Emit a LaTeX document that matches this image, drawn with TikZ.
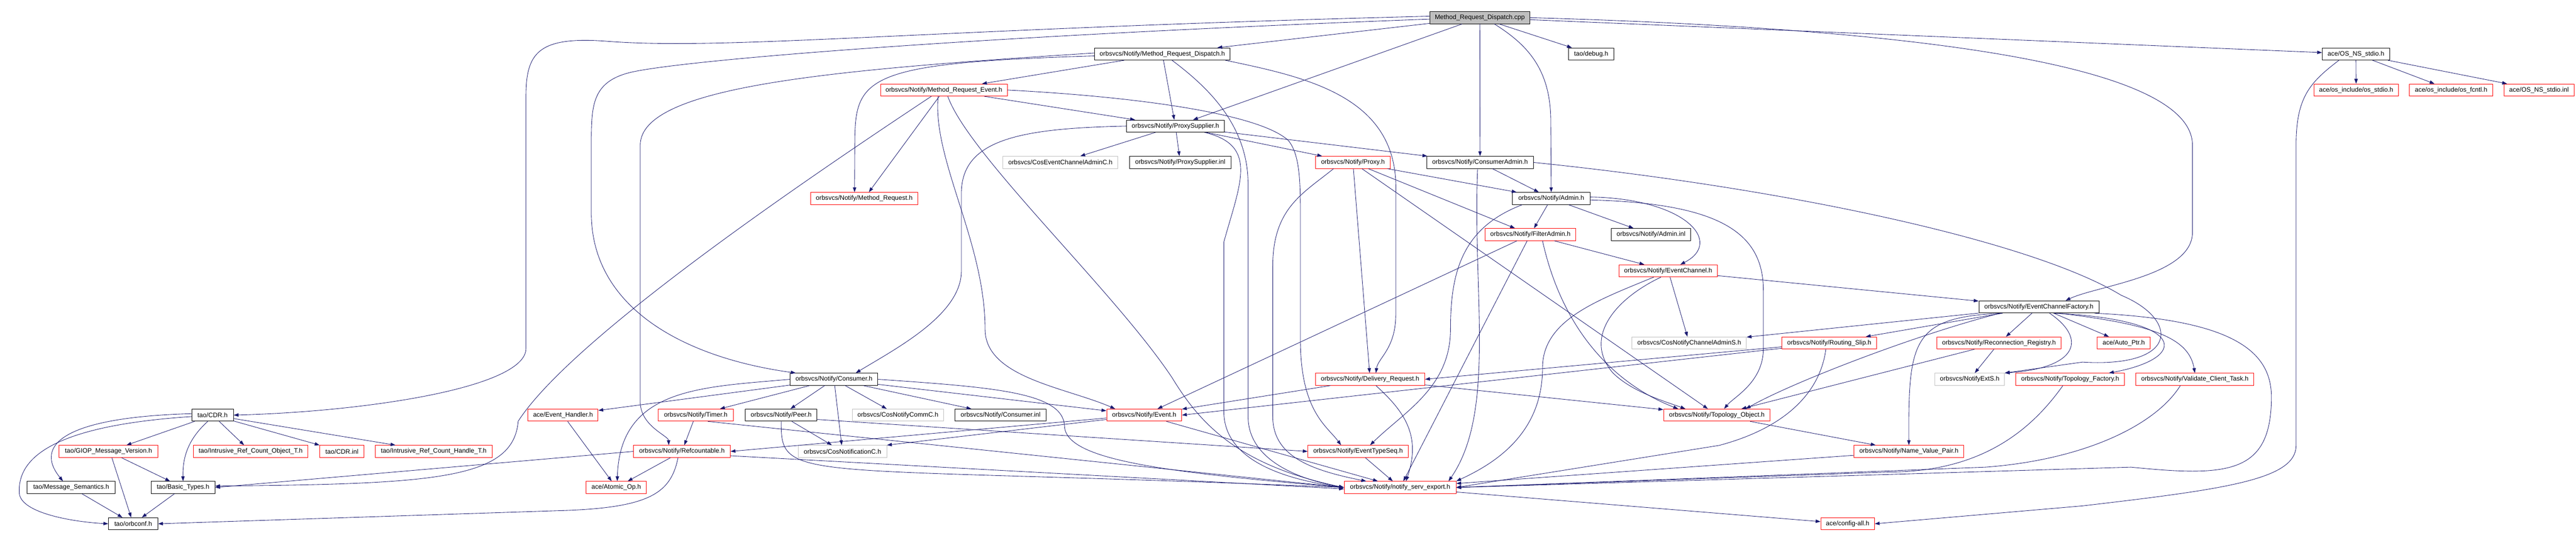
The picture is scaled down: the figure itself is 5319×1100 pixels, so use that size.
\documentclass[tikz,border=0pt]{standalone}
\usepackage{fontspec}
\setmainfont{Liberation Sans}
\usetikzlibrary{arrows.meta}
\definecolor{edgeblue}{HTML}{191970}
\definecolor{nodoc}{HTML}{BFBFBF}
\begin{document}
\begin{tikzpicture}[x=1pt, y=-1pt,
    hdr/.style={draw=black, fill=white, line width=1pt, minimum height=25pt, inner xsep=1pt, inner ysep=0pt, font=\fontsize{13.3}{16}\selectfont},
    hdrred/.style={hdr, draw=red},
    hdrgray/.style={hdr, draw=nodoc},
    src/.style={hdr, fill=nodoc},
    inc/.style={draw=edgeblue, line width=0.9pt, -{Triangle[length=10pt, width=7pt]}}]
    \fill[white] (0,0) rectangle (5319,1100);

    \node[src, minimum width=207pt] (root) at (3055.5,36.5) {Method\_Request\_Dispatch.cpp};
    \node[hdr, minimum width=280pt] (mrdh) at (2400,111.5) {orbsvcs/Notify/Method\_Request\_Dispatch.h};
    \node[hdr, minimum width=93pt] (debug) at (3285.5,111.5) {tao/debug.h};
    \node[hdr, minimum width=139pt] (osns) at (4864.5,111.5) {ace/OS\_NS\_stdio.h};
    \node[hdrred, minimum width=262pt] (mreh) at (1949,186) {orbsvcs/Notify/Method\_Request\_Event.h};
    \node[hdrred, minimum width=174pt] (osstdio) at (4865,186) {ace/os\_include/os\_stdio.h};
    \node[hdrred, minimum width=172pt] (osfcntl) at (5061,186) {ace/os\_include/os\_fcntl.h};
    \node[hdrred, minimum width=145pt] (osinl) at (5242.5,186) {ace/OS\_NS\_stdio.inl};
    \node[hdr, minimum width=202pt] (psup) at (2427,260.5) {orbsvcs/Notify/ProxySupplier.h};
    \node[hdrgray, minimum width=237pt] (cosecac) at (2189.5,335.5) {orbsvcs/CosEventChannelAdminC.h};
    \node[hdr, minimum width=210pt] (psinl) at (2437,335.5) {orbsvcs/Notify/ProxySupplier.inl};
    \node[hdrred, minimum width=155pt] (proxy) at (2793.5,335.5) {orbsvcs/Notify/Proxy.h};
    \node[hdr, minimum width=220pt] (cadmin) at (3056,335.5) {orbsvcs/Notify/ConsumerAdmin.h};
    \node[hdrred, minimum width=221pt] (mreq) at (1784.5,410) {orbsvcs/Notify/Method\_Request.h};
    \node[hdr, minimum width=160pt] (admin) at (3203,410) {orbsvcs/Notify/Admin.h};
    \node[hdrred, minimum width=188pt] (fadmin) at (3160,484.5) {orbsvcs/Notify/FilterAdmin.h};
    \node[hdr, minimum width=164pt] (admininl) at (3409,484.5) {orbsvcs/Notify/Admin.inl};
    \node[hdrred, minimum width=203pt] (ech) at (3444.5,559.5) {orbsvcs/Notify/EventChannel.h};
    \node[hdr, minimum width=248pt] (ecf) at (4210,634) {orbsvcs/Notify/EventChannelFactory.h};
    \node[hdrgray, minimum width=236pt] (cosncas) at (3488,708.5) {orbsvcs/CosNotifyChannelAdminS.h};
    \node[hdrred, minimum width=196pt] (rslip) at (3777,708.5) {orbsvcs/Notify/Routing\_Slip.h};
    \node[hdrred, minimum width=257pt] (recon) at (4127.5,708.5) {orbsvcs/Notify/Reconnection\_Registry.h};
    \node[hdrred, minimum width=110pt] (autoptr) at (4385,708.5) {ace/Auto\_Ptr.h};
    \node[hdr, minimum width=181pt] (consumer) at (1722,783.5) {orbsvcs/Notify/Consumer.h};
    \node[hdrred, minimum width=226pt] (dreq) at (2829,783.5) {orbsvcs/Notify/Delivery\_Request.h};
    \node[hdrgray, minimum width=144pt] (extS) at (4067,783.5) {orbsvcs/NotifyExtS.h};
    \node[hdrred, minimum width=225pt] (tfact) at (4274.5,783.5) {orbsvcs/Notify/Topology\_Factory.h};
    \node[hdrred, minimum width=244pt] (vct) at (4532,783.5) {orbsvcs/Notify/Validate\_Client\_Task.h};
    \node[hdr, minimum width=86pt] (cdr) at (439,857.5) {tao/CDR.h};
    \node[hdrred, minimum width=145pt] (evh) at (1162.5,857.5) {ace/Event\_Handler.h};
    \node[hdrred, minimum width=155pt] (timer) at (1436.5,857.5) {orbsvcs/Notify/Timer.h};
    \node[hdr, minimum width=148pt] (peer) at (1613,857.5) {orbsvcs/Notify/Peer.h};
    \node[hdrgray, minimum width=188pt] (cosncc) at (1854,857.5) {orbsvcs/CosNotifyCommC.h};
    \node[hdr, minimum width=188pt] (cinl) at (2066,857.5) {orbsvcs/Notify/Consumer.inl};
    \node[hdrred, minimum width=155pt] (event) at (2362.5,857.5) {orbsvcs/Notify/Event.h};
    \node[hdrred, minimum width=220pt] (tobj) at (3545,857.5) {orbsvcs/Notify/Topology\_Object.h};
    \node[hdrred, minimum width=204pt] (giop) at (224,932.5) {tao/GIOP\_Message\_Version.h};
    \node[hdrred, minimum width=237pt] (ircobj) at (517.5,932.5) {tao/Intrusive\_Ref\_Count\_Object\_T.h};
    \node[hdrred, minimum width=92pt] (cdrinl) at (706,932.5) {tao/CDR.inl};
    \node[hdrred, minimum width=241pt] (irchandle) at (895.5,932.5) {tao/Intrusive\_Ref\_Count\_Handle\_T.h};
    \node[hdrred, minimum width=200pt] (refc) at (1408,932.5) {orbsvcs/Notify/Refcountable.h};
    \node[hdrgray, minimum width=183pt] (cosnc) at (1739.5,932.5) {orbsvcs/CosNotificationC.h};
    \node[hdrred, minimum width=207pt] (etseq) at (2804,932.5) {orbsvcs/Notify/EventTypeSeq.h};
    \node[hdrred, minimum width=227pt] (nvp) at (3941.5,932.5) {orbsvcs/Notify/Name\_Value\_Pair.h};
    \node[hdr, minimum width=182pt] (msgsem) at (147,1007) {tao/Message\_Semantics.h};
    \node[hdr, minimum width=132pt] (btypes) at (378,1007) {tao/Basic\_Types.h};
    \node[hdrred, minimum width=124pt] (atomic) at (1272.5,1007) {ace/Atomic\_Op.h};
    \node[hdrred, minimum width=231pt] (export) at (2891,1007) {orbsvcs/Notify/notify\_serv\_export.h};
    \node[hdr, minimum width=102pt] (orbconf) at (275,1082) {tao/orbconf.h};
    \node[hdrred, minimum width=111pt] (configall) at (3815,1082) {ace/config-all.h};

    \draw[inc] (root) -- (mrdh);
    \draw[inc] (root) -- (debug);
    \draw[inc] (root) -- (osns);
    \draw[inc] (root) -- (psup);
    \draw[inc] (root) -- (cadmin);
    \draw[inc] ([xshift=30pt]root.south) .. controls (3150,90) and (3202,140) .. (3202,250) -- (admin);
    \draw[inc] (root.east) .. controls (4000,60) and (4527,140) .. (4527,300) -- (4527,480) .. controls (4527,570) and (4330,590) .. ([xshift=55pt]ecf.north);
    \draw[inc] ([yshift=3pt]root.west) .. controls (1900,60) and (1500,105) .. (1250,85) .. controls (1110,75) and (1086,110) .. (1086,200) -- (1086,720) .. controls (1086,800) and (760,850) .. (cdr.east);
    \draw[inc] ([yshift=-3pt]root.west) .. controls (2000,75) and (1400,125) .. (1300,150) .. controls (1221,170) and (1221,220) .. (1221,300) -- (1221,440) .. controls (1221,640) and (1420,740) .. ([xshift=12pt]consumer.north west);

    \draw[inc] (mrdh) -- (mreh);
    \draw[inc] (mrdh) -- (psup);
    \draw[inc] ([yshift=-4pt]mrdh.west) .. controls (1780,130) and (1765,160) .. (1765,300) -- ([xshift=-20pt]mreq.north);
    \draw[inc] ([yshift=2pt]mrdh.west) .. controls (1700,145) and (1322,180) .. (1322,300) -- (1322,830) .. controls (1322,880) and (1380,900) .. ([xshift=-27pt]refc.north);
    \draw[inc] ([xshift=20pt]mrdh.south) .. controls (2480,170) and (2577,250) .. (2577,380) -- (2577,860) .. controls (2577,950) and (2680,990) .. (export.west);
    \draw[inc] ([xshift=130pt]mrdh.south) .. controls (2700,160) and (2890,200) .. (2882,400) -- (2882,650) .. controls (2882,720) and (2845,740) .. ([xshift=12pt]dreq.north);

    \draw[inc] (mreh) -- (psup);
    \draw[inc] (mreh) -- (mreq);
    \draw[inc] ([xshift=-12pt]mreh.south) .. controls (1925,330) and (2034,500) .. (2034,680) .. controls (2034,780) and (2200,800) .. ([xshift=-60pt]event.north);
    \draw[inc] ([xshift=8pt]mreh.south) .. controls (2000,320) and (2300,600) .. (2420,780) .. controls (2475,870) and (2550,960) .. (export.west);
    \draw[inc] (mreh.east) .. controls (2350,200) and (2600,235) .. (2660,290) .. controls (2685,320) and (2685,380) .. (2685,450) -- (2685,700) .. controls (2685,850) and (2740,880) .. ([xshift=-35pt]etseq.north);
    \draw[inc] ([xshift=-26pt]mreh.south) .. controls (1650,380) and (1180,700) .. (1070,870) .. controls (1060,990) and (900,1000) .. ([yshift=3pt]btypes.east);

    \draw[inc] (psup) -- (cosecac);
    \draw[inc] (psup) -- (psinl);
    \draw[inc] (psup) -- (proxy);
    \draw[inc] (psup) -- (cadmin);
    \draw[inc] (psup.west) .. controls (2100,265) and (1985,290) .. (1985,400) -- (1985,560) .. controls (1985,650) and (1850,720) .. ([xshift=45pt]consumer.north);
    \draw[inc] ([xshift=60pt]psup.south) .. controls (2600,300) and (2560,380) .. (2527,500) -- (2527,850) .. controls (2527,950) and (2650,990) .. (export.west);

    \draw[inc] (proxy) -- (admin);
    \draw[inc] (proxy) -- (fadmin);
    \draw[inc] (proxy) -- (dreq);
    \draw[inc] (proxy) -- (tobj);
    \draw[inc] ([xshift=-40pt]proxy.south) .. controls (2690,400) and (2628,430) .. (2628,550) -- (2628,860) .. controls (2628,940) and (2700,970) .. ([xshift=-70pt]export.north);

    \draw[inc] (cadmin) -- (admin);
    \draw[inc] ([xshift=-5pt]cadmin.south) .. controls (3040,600) and (3090,850) .. ([xshift=100pt]export.north);
    \draw[inc] (cadmin.east) .. controls (3700,390) and (4200,500) .. (4380,610) .. controls (4500,660) and (4500,760) .. (4300,748) -- (extS.north east);

    \draw[inc] (admin) -- (fadmin);
    \draw[inc] (admin) -- (admininl);
    \draw[inc] ([yshift=3pt]admin.east) .. controls (3480,410) and (3560,500) .. ([xshift=25pt]ech.north);
    \draw[inc] ([yshift=-3pt]admin.east) .. controls (3550,420) and (3641,480) .. (3641,600) -- (3641,720) .. controls (3641,790) and (3580,820) .. ([xshift=15pt]tobj.north);
    \draw[inc] ([xshift=-60pt]admin.south) .. controls (3020,470) and (2995,560) .. (2995,680) .. controls (2995,800) and (2900,850) .. ([xshift=25pt]etseq.north);

    \draw[inc] (fadmin) -- (ech);
    \draw[inc] (fadmin) -- (event);
    \draw[inc] (fadmin) -- (export);
    \draw[inc] ([xshift=25pt]fadmin.south) .. controls (3230,700) and (3350,800) .. ([xshift=-80pt]tobj.north);

    \draw[inc] (ech) -- (ecf);
    \draw[inc] (ech) -- (cosncas);
    \draw[inc] ([xshift=-15pt]ech.south) .. controls (3330,620) and (3270,700) .. (3330,770) .. controls (3370,810) and (3440,830) .. ([xshift=-65pt]tobj.north);
    \draw[inc] ([xshift=-30pt]ech.south) .. controls (3300,620) and (3185,660) .. (3185,760) .. controls (3185,900) and (3080,960) .. (export.north east);

    \draw[inc] (ecf) -- (cosncas);
    \draw[inc] (ecf) -- (rslip);
    \draw[inc] (ecf) -- (recon);
    \draw[inc] (ecf) -- (autoptr);
    \draw[inc] ([xshift=-75pt]ecf.south) .. controls (3950,655) and (3940,700) .. (nvp.north);
    \draw[inc] ([xshift=-80pt]ecf.south) .. controls (3960,690) and (3700,790) .. ([xshift=60pt]tobj.north);
    \draw[inc] ([xshift=22pt]ecf.south) .. controls (4310,700) and (4290,760) .. (extS.north east);
    \draw[inc] ([xshift=30pt]ecf.south) .. controls (4520,660) and (4520,740) .. ([xshift=80pt]tfact.north);
    \draw[inc] ([xshift=40pt]ecf.south) .. controls (4450,670) and (4520,700) .. (vct.north);
    \draw[inc] ([xshift=115pt]ecf.south) .. controls (4600,660) and (4690,720) .. (4690,820) .. controls (4690,980) and (4600,985) .. (4400,965) -- (export.east);

    \draw[inc] ([xshift=-15pt]tfact.south) .. controls (4200,880) and (4100,975) .. (3900,975) -- (export.east);
    \draw[inc] ([xshift=-30pt]vct.south) .. controls (4450,880) and (4300,950) .. (4100,965) -- (export.east);
    \draw[inc] ([yshift=-8pt]rslip.west) -- (dreq.east);
    \draw[inc] ([yshift=-11pt]rslip.west) -- (event.east);
    \draw[inc] ([xshift=-7pt]rslip.south) .. controls (3760,800) and (3700,880) .. (3550,920) -- (export.east);
    \draw[inc] (recon) -- (tobj);
    \draw[inc] (recon) -- (extS);

    \draw[inc] (dreq) -- (event);
    \draw[inc] (dreq) -- (tobj);
    \draw[inc] ([xshift=12pt]dreq.south) .. controls (2900,850) and (2935,900) .. ([xshift=12pt]export.north);

    \draw[inc] (consumer) -- (evh);
    \draw[inc] (consumer) -- (timer);
    \draw[inc] (consumer) -- (peer);
    \draw[inc] (consumer) -- (cosncc);
    \draw[inc] (consumer) -- (cinl);
    \draw[inc] (consumer) -- (cosnc);
    \draw[inc] (consumer) -- (event);
    \draw[inc] (consumer.west) .. controls (1450,800) and (1280,800) .. ([xshift=2pt]atomic.north);
    \draw[inc] (consumer.east) .. controls (2050,800) and (2195,810) .. (2198,880) .. controls (2200,950) and (2400,975) .. (export.west);

    \draw[inc] (evh) -- (atomic);
    \draw[inc] (timer) -- (refc);
    \draw[inc] ([xshift=25pt]timer.south) -- (export.west);
    \draw[inc] (peer) -- (cosnc);
    \draw[inc] ([yshift=-9pt]peer.east) -- (etseq.west);
    \draw[inc] (peer.south) .. controls (1612,1000) and (1640,960) .. (export.west);
    \draw[inc] ([yshift=-6pt]event.west) -- (refc.east);
    \draw[inc] ([yshift=-9pt]event.west) -- (cosnc.north east);
    \draw[inc] (event) -- (export);
    \draw[inc] (refc) -- (atomic);
    \draw[inc] ([yshift=-9pt]refc.east) -- ([yshift=-3pt]export.west);
    \draw[inc] (refc.west) -- (btypes.east);
    \draw[inc] ([xshift=-8pt]refc.south) .. controls (1385,1020) and (1340,1050) .. (1150,1055) -- (orbconf.east);
    \draw[inc] (etseq) -- (export);
    \draw[inc] (tobj) -- (nvp);
    \draw[inc] (nvp) -- (export);
    \draw[inc] (export) -- (configall);

    \draw[inc] (osns) -- (osstdio);
    \draw[inc] (osns) -- (osfcntl);
    \draw[inc] (osns) -- (osinl);
    \draw[inc] ([xshift=-35pt]osns.south) .. controls (4770,170) and (4741,200) .. (4741,300) -- (4741,920) .. controls (4741,990) and (4600,1010) .. (4300,1045) -- (configall.east);

    \draw[inc] (cdr) -- (giop);
    \draw[inc] (cdr) -- (ircobj);
    \draw[inc] (cdr) -- (cdrinl);
    \draw[inc] (cdr) -- (irchandle);
    \draw[inc] ([xshift=-10pt]cdr.south) .. controls (385,910) and (377,950) .. (btypes.north);
    \draw[inc] ([yshift=3pt]cdr.west) .. controls (130,862) and (70,920) .. ([xshift=-17pt]msgsem.north);
    \draw[inc] ([yshift=-3pt]cdr.west) .. controls (100,880) and (35,950) .. (40,1020) .. controls (45,1060) and (150,1078) .. (orbconf.west);
    \draw[inc] (giop) -- (btypes);
    \draw[inc] ([xshift=7pt]giop.south) -- (orbconf);
    \draw[inc] (msgsem) -- (orbconf);
    \draw[inc] (btypes) -- (orbconf);
\end{tikzpicture}
\end{document}
